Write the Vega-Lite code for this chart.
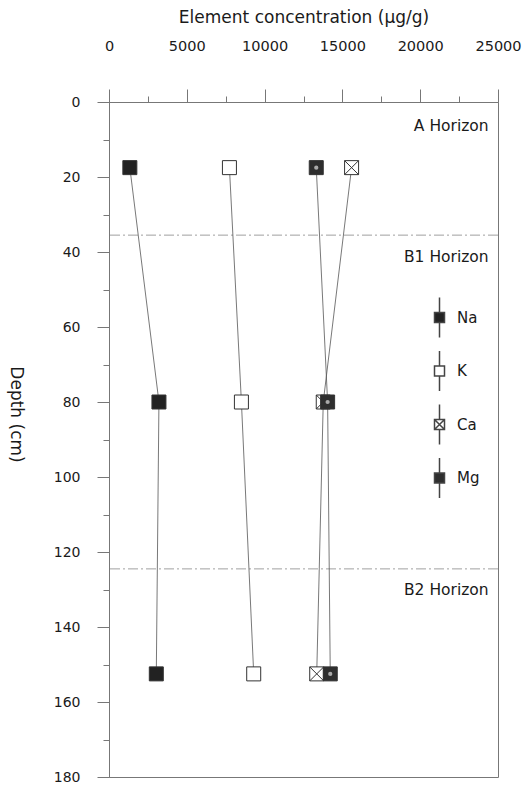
{
  "$schema": "https://vega.github.io/schema/vega-lite/v6.json",
  "width": 389,
  "height": 675,
  "autosize": "none",
  "padding": {"left": 109, "top": 102, "right": 25, "bottom": 10},
  "background": "white",
  "config": {
    "font": "DejaVu Sans",
    "view": {"stroke": "#777", "strokeWidth": 1},
    "axis": {
      "grid": false,
      "domainColor": "#777",
      "tickColor": "#777",
      "labelColor": "#1a1a1a",
      "titleColor": "#1a1a1a",
      "labelFont": "DejaVu Sans",
      "titleFont": "DejaVu Sans",
      "titleFontWeight": "normal"
    }
  },
  "datasets": {
    "conc": [
      {"element": "Na", "depth": 17.5, "value": 1340},
      {"element": "Na", "depth": 80, "value": 3210},
      {"element": "Na", "depth": 152.5, "value": 3040},
      {"element": "K", "depth": 17.5, "value": 7740},
      {"element": "K", "depth": 80, "value": 8510},
      {"element": "K", "depth": 152.5, "value": 9300},
      {"element": "Ca", "depth": 17.5, "value": 15590},
      {"element": "Ca", "depth": 80, "value": 13770},
      {"element": "Ca", "depth": 152.5, "value": 13350},
      {"element": "Mg", "depth": 17.5, "value": 13320},
      {"element": "Mg", "depth": 80, "value": 14050},
      {"element": "Mg", "depth": 152.5, "value": 14220}
    ],
    "bounds": [
      {"depth": 35.5},
      {"depth": 124.5}
    ],
    "horizons": [
      {"label": "A Horizon", "depth": 6.4, "value": 24400},
      {"label": "B1 Horizon", "depth": 41.2, "value": 24400},
      {"label": "B2 Horizon", "depth": 130.2, "value": 24400}
    ]
  },
  "encoding": {
    "x": {
      "field": "value",
      "type": "quantitative",
      "scale": {"domain": [0, 25000], "nice": false},
      "axis": {
        "orient": "top",
        "title": "Element concentration (μg/g)",
        "titleFontSize": 17,
        "titleX": 194.5,
        "titleY": -85,
        "titleBaseline": "middle",
        "titleAlign": "center",
        "values": [0, 2500, 5000, 7500, 10000, 12500, 15000, 17500, 20000, 22500, 25000],
        "format": "d",
        "labelExpr": "datum.value % 5000 === 0 ? datum.label : ''",
        "labelFontSize": 14.5,
        "labelFlush": false,
        "labelPadding": 36,
        "tickSize": {"condition": {"test": "datum.value % 5000 === 0", "value": 13}, "value": 6}
      }
    },
    "y": {
      "field": "depth",
      "type": "quantitative",
      "scale": {"domain": [0, 180], "reverse": true, "nice": false},
      "axis": {
        "title": "Depth (cm)",
        "titleFontSize": 17,
        "titleAngle": 90,
        "titleX": -94,
        "titleY": 312,
        "titleBaseline": "middle",
        "titleAlign": "center",
        "values": [0, 10, 20, 30, 40, 50, 60, 70, 80, 90, 100, 110, 120, 130, 140, 150, 160, 170, 180],
        "labelExpr": "datum.value % 20 === 0 ? datum.label : ''",
        "labelFontSize": 14,
        "labelPadding": 17,
        "labelFlush": false,
        "tickSize": {"condition": {"test": "datum.value % 20 === 0", "value": 12}, "value": 6}
      }
    }
  },
  "layer": [
    {
      "data": {"name": "bounds"},
      "mark": {"type": "rule", "stroke": "#888", "strokeWidth": 0.8, "strokeDash": [10, 3, 2, 3]},
      "encoding": {"x": null}
    },
    {
      "data": {"name": "horizons"},
      "mark": {"type": "text", "align": "right", "baseline": "middle", "fontSize": 15.5, "color": "#1a1a1a"},
      "encoding": {"text": {"field": "label"}}
    },
    {
      "data": {"name": "conc"},
      "mark": {"type": "line", "stroke": "#555", "strokeWidth": 0.8},
      "encoding": {
        "detail": {"field": "element"},
        "order": {"field": "depth", "type": "quantitative"}
      }
    },
    {
      "data": {"name": "conc"},
      "mark": {"type": "point", "filled": true, "size": 196, "stroke": "#333", "strokeWidth": 1, "opacity": 1},
      "encoding": {
        "color": {
          "field": "element",
          "type": "nominal",
          "scale": {"domain": ["Na", "K", "Ca", "Mg"], "range": ["#222", "#ffffff", "#ffffff", "#2e2e2e"]},
          "legend": null
        },
        "shape": {
          "field": "element",
          "type": "nominal",
          "scale": {"domain": ["Na", "K", "Ca", "Mg"], "range": ["M-1,-1H1V1H-1Z", "M-1,-1H1V1H-1Z", "M-1,-1H1V1H-1ZM-1,-1L1,1M1,-1L-1,1", "M-1,-1H1V1H-1Z"]},
          "legend": null
        }
      }
    },
    {
      "data": {"name": "conc"},
      "transform": [{"filter": "datum.element === 'Mg'"}],
      "mark": {"type": "point", "shape": "circle", "filled": true, "size": 18, "color": "#aaa", "opacity": 1, "strokeWidth": 0}
    },
    {
      "data": {"name": "conc"},
      "transform": [{"filter": "datum.depth < 0"}],
      "mark": {"type": "point", "filled": false, "size": 100, "strokeWidth": 1, "opacity": 1},
      "encoding": {
        "color": {
          "field": "element",
          "type": "nominal",
          "scale": {"domain": ["Na", "K", "Ca", "Mg"], "range": ["#444", "#444", "#444", "#444"]},
          "legend": {
            "title": null,
            "orient": "none",
            "legendX": 323,
            "legendY": 208,
            "padding": 0,
            "symbolSize": 100,
            "symbolOpacity": 1,
            "rowPadding": 6.5,
            "labelFontSize": 15,
            "labelOffset": 10,
            "labelColor": "#1a1a1a"
          }
        },
        "fill": {
          "field": "element",
          "type": "nominal",
          "scale": {"domain": ["Na", "K", "Ca", "Mg"], "range": ["#222", "#ffffff", "#ffffff", "#2e2e2e"]},
          "legend": {
            "title": null,
            "orient": "none",
            "legendX": 323,
            "legendY": 208,
            "padding": 0,
            "symbolSize": 100,
            "symbolOpacity": 1,
            "rowPadding": 6.5,
            "labelFontSize": 15,
            "labelOffset": 10,
            "labelColor": "#1a1a1a"
          }
        },
        "shape": {
          "field": "element",
          "type": "nominal",
          "scale": {"domain": ["Na", "K", "Ca", "Mg"], "range": ["M0,-4V-1M-1,-1H1V1H-1ZM0,1V4", "M0,-4V-1M-1,-1H1V1H-1ZM0,1V4", "M0,-4V-1M-1,-1H1V1H-1ZM-1,-1L1,1M1,-1L-1,1M0,1V4", "M0,-4V-1M-1,-1H1V1H-1ZM0,1V4"]},
          "legend": {
            "title": null,
            "orient": "none",
            "legendX": 323,
            "legendY": 208,
            "padding": 0,
            "symbolSize": 100,
            "symbolOpacity": 1,
            "rowPadding": 6.5,
            "labelFontSize": 15,
            "labelOffset": 10,
            "labelColor": "#1a1a1a"
          }
        }
      }
    }
  ],
  "resolve": {"scale": {"shape": "independent", "color": "independent", "fill": "independent"}}
}
